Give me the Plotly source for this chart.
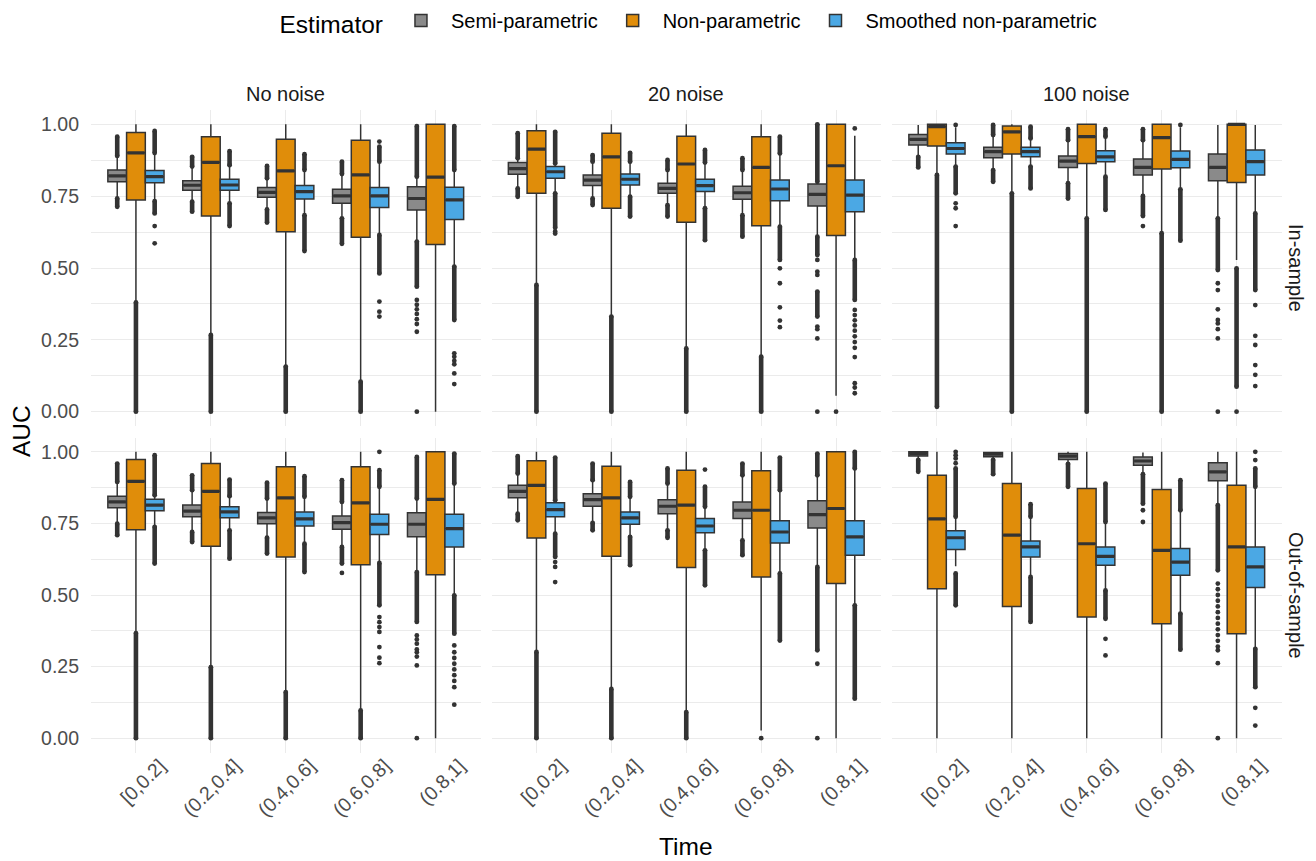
import plotly.graph_objects as go

# ---------------- data ----------------
TIME_LABELS = ["[0,0.2]", "(0.2,0.4]", "(0.4,0.6]", "(0.6,0.8]", "(0.8,1]"]
NOISE_LABELS = ["No noise", "20 noise", "100 noise"]
SAMPLE_LABELS = ["In-sample", "Out-of-sample"]
ESTIMATORS = ["Semi-parametric", "Non-parametric", "Smoothed non-parametric"]
Y_TICKS = [0.0, 0.25, 0.5, 0.75, 1.0]
Y_TICK_TEXT = ["0.00", "0.25", "0.50", "0.75", "1.00"]

# Panels order: No/In, 20/In, 100/In, No/Out, 20/Out, 100/Out ; 5 time bins each
SEMI_Q1 = [[.800, .771, .746, .725, .702], [.826, .787, .760, .739, .716], [.928, .884, .850, .824, .804],
           [.805, .773, .749, .730, .703], [.840, .810, .784, .767, .734], [.985, .983, .973, .953, .899]]
SEMI_MED = [[.821, .788, .763, .751, .742], [.846, .806, .777, .762, .756], [.948, .905, .872, .850, .850],
            [.825, .793, .769, .753, .747], [.862, .833, .810, .796, .781], [.994, .992, .985, .968, .930]]
SEMI_Q3 = [[.841, .804, .780, .774, .783], [.867, .824, .795, .785, .792], [.965, .920, .890, .879, .897],
           [.845, .814, .788, .776, .787], [.883, .854, .833, .825, .829], [1.0, .998, .994, .982, .962]]
SEMI_LO = [[.745, .735, .708, .678, .595], [.780, .745, .722, .687, .612], [.890, .843, .798, .755, .676],
           [.752, .722, .702, .670, .583], [.787, .755, .730, .695, .600], [.975, .975, .962, .925, .818]]
SEMI_HI = [[.885, .850, .810, .825, .815], [.880, .868, .838, .838, .798], [.998, .960, .942, .942, .998],
           [.892, .862, .834, .822, .834], [.921, .898, .886, .915, .915], [1.0, 1.0, 1.0, .998, 1.0]]
SEMI_STREAKS = [
    [[[.890, .957], [.713, .742]], [[.853, .887], [.696, .731]], [[.812, .855], [.658, .704]],
     [[.827, .870], [.584, .673]], [[.818, .994], [.435, .592]]],
    [[[.882, .969], [.748, .777]], [[.870, .893], [.719, .742]], [[.841, .876], [.679, .719]],
     [[.841, .882], [.609, .684]], [[.800, 1.0], [.545, .609], [.331, .418]]],
    [[[.850, .887]], [[.963, .998], [.800, .841]], [[.945, .983], [.742, .795]],
     [[.945, .983], [.681, .751]], [[.493, .673]]],
    [[[.895, .959], [.709, .749]], [[.866, .918], [.685, .720]], [[.837, .892], [.645, .700]],
     [[.825, .901], [.610, .668]], [[.837, .982], [.406, .580]]],
    [[[.924, .985], [.761, .784]], [[.901, .959], [.726, .752]], [[.889, .942], [.700, .726]],
     [[.918, .959], [.639, .691]], [[.918, .994], [.307, .598]]],
    [[[.930, .972]], [[.922, .972]], [[.878, .958]], [[.819, .922]], [[.586, .814]]],
]
SEMI_POINTS = [
    [[], [], [], [], [.389, .372, .356, .340, .322, .305, .278, 0.0]],
    [[], [], [], [], [.528, .487, .476, .296, .287, .255, 0.0]],
    [[], [], [], [.646], [.447, .423, .356, .319, .307, .287, .255, 0.0]],
    [[], [], [], [.577], [.359, .345, .330, .310, .300, .285, .254, 0.0]],
    [[], [], [], [], [.260, 0.0]],
    [[], [], [], [.796, .755], [.540, .520, .500, .480, .460, .440, .420, .400, .380, .360, .340, .320, .307, .262, 0.0]],
]

NONP_Q1 = [[.737, .681, .626, .607, .582], [.760, .708, .659, .647, .613], [.925, .897, .864, .845, .798],
           [.728, .670, .633, .606, .571], [.699, .635, .596, .563, .540], [.522, .460, .423, .400, .365]]
NONP_MED = [[.901, .868, .838, .824, .816], [.914, .887, .862, .850, .856], [.992, .974, .957, .954, 1.0],
            [.897, .862, .839, .822, .834], [.883, .839, .814, .796, .802], [.766, .709, .679, .656, .668]]
NONP_Q3 = [[.972, .957, .948, .945, 1.0], [.978, .969, .959, .957, 1.0], [1.0, .994, 1.0, 1.0, 1.0],
           [.973, .959, .948, .948, 1.0], [.969, .950, .936, .934, 1.0], [.918, .889, .872, .868, .883]]
NONP_LO = [[.384, .270, .160, .107, 0.0], [.445, .335, .224, .195, .055], [.826, .762, .675, .623, .528],
           [.370, .250, .165, .100, 0.0], [.305, .175, .095, .027, 0.0], [0.0, 0.0, 0.0, 0.0, 0.0]]
NONP_HI = [[1.0, 1.0, 1.0, 1.0, 1.0], [1.0, 1.0, 1.0, 1.0, 1.0], [1.0, 1.0, 1.0, 1.0, 1.0],
           [1.0, 1.0, 1.0, 1.0, 1.0], [1.0, 1.0, 1.0, 1.0, 1.0], [1.0, 1.0, 1.0, 1.0, 1.0]]
NONP_STREAKS = [
    [[[0.0, .380]], [[0.0, .267]], [[0.0, .157]], [[0.0, .104]], []],
    [[[0.0, .441]], [[0.0, .331]], [[0.0, .220]], [[0.0, .191]], []],
    [[[.017, .824]], [[0.0, .760]], [[0.0, .673]], [[0.0, .621]], [[.087, .499]]],
    [[[0.0, .367]], [[0.0, .248]], [[0.0, .161]], [[0.0, .097]], []],
    [[[0.0, .301]], [[0.0, .172]], [[0.0, .091]], [], []],
    [[], [], [], [], []],
]
NONP_POINTS = [
    [[], [], [], [], []],
    [[], [], [], [], [0.0]],
    [[], [], [], [], [0.0]],
    [[], [], [], [], []],
    [[], [], [], [0.0], []],
    [[], [], [], [], []],
]

SMOOTH_Q1 = [[.797, .771, .740, .711, .669], [.812, .789, .766, .734, .696], [.897, .887, .870, .849, .824],
             [.794, .770, .741, .711, .668], [.773, .747, .717, .682, .639], [.659, .633, .604, .569, .526]]
SMOOTH_MED = [[.818, .789, .766, .751, .737], [.835, .809, .787, .775, .754], [.916, .905, .887, .878, .870],
              [.814, .790, .766, .747, .732], [.798, .769, .741, .720, .703], [.700, .668, .635, .615, .598]]
SMOOTH_Q3 = [[.839, .809, .787, .780, .781], [.853, .827, .809, .806, .806], [.936, .920, .908, .907, .911],
             [.834, .808, .790, .782, .782], [.822, .790, .767, .759, .759], [.724, .689, .668, .662, .668]]
SMOOTH_LO = [[.736, .728, .688, .618, .508], [.763, .751, .711, .647, .531], [.856, .855, .820, .777, .692],
             [.740, .728, .682, .615, .502], [.716, .706, .660, .578, .467], [.600, .566, .520, .440, .315]]
SMOOTH_HI = [[.898, .855, .838, .868, .838], [.862, .868, .864, .897, .960], [.990, .948, .955, .990, .998],
             [.845, .842, .840, .875, .886], [.828, .840, .805, .863, .938], [.770, .770, .750, .793, .875]]
SMOOTH_STREAKS = [
    [[[.900, .977], [.690, .733]], [[.858, .907], [.646, .725]], [[.841, .896], [.559, .684]],
     [[.870, .922], [.481, .615]], [[.841, .994], [.319, .505]]],
    [[[.864, .974], [.640, .760]], [[.870, .901], [.679, .748]], [[.867, .911], [.597, .708]],
     [[.899, .957], [.528, .644]], [[.389, .528]]],
    [[[.760, .853]], [[.951, .992], [.777, .853]], [[.957, .983], [.702, .818]],
     [[.595, .774]], [[.423, .690]]],
    [[[.848, .988], [.610, .738]], [[.845, .903], [.627, .726]], [[.843, .915], [.580, .679]],
     [[.878, .936], [.464, .612]], [[.889, .994], [.365, .499]]],
    [[[.831, .980], [.633, .714]], [[.843, .895], [.604, .703]], [[.808, .878], [.534, .656]],
     [[.866, .980], [.341, .575]], [[.942, 1.0], [.138, .464]]],
    [[[.773, .942], [.464, .575]], [[.773, .817], [.406, .563]], [[.755, .889], [.417, .516]],
     [[.796, .901], [.309, .435]], [[.878, .942], [.178, .312]]],
]
SMOOTH_POINTS = [
    [[.646, .586], [], [], [.940, .383, .348, .331], [.203, .191, .177, .165, .133, .096]],
    [[.627, .620], [], [], [.499, .447, .363, .317, .294],
     [.986, .354, .336, .318, .300, .282, .262, .242, .222, .190, .099, .084, .064]],
    [[.998, .725, .708, .646], [], [], [.998], [.371, .264, .232, .162, .128, .089]],
    [[], [], [], [1.0, .423, .405, .388, .371, .318, .281, .262], [.324, .300, .280, .260, .240, .220, .200, .178, .117]],
    [[.615, .598, .545], [], [.938], [], []],
    [[1.0, .988, .977, .960], [], [.347, .289], [], [1.0, .971, .106, .044]],
]

# ---------------- styling ----------------
FILLS = ["#8a8a8a", "#E08D0A", "#4BA8E4"]
EDGE = "#333333"
FONT = "Liberation Sans, Arial, sans-serif"
W, H = 1316, 861
COLS_PX = [(91, 480.5), (491.5, 881), (892, 1281.5)]
ROWS_PX = [(110, 426), (437.5, 752.5)]
OFFSETS = [-0.25, 0.0, 0.25]
BOX_W = 0.25
TICK_SIZE = 19.5
STRIP_SIZE = 20
TITLE_SIZE = 24.5

STATS = [
    (SEMI_Q1, SEMI_MED, SEMI_Q3, SEMI_LO, SEMI_HI, SEMI_STREAKS, SEMI_POINTS),
    (NONP_Q1, NONP_MED, NONP_Q3, NONP_LO, NONP_HI, NONP_STREAKS, NONP_POINTS),
    (SMOOTH_Q1, SMOOTH_MED, SMOOTH_Q3, SMOOTH_LO, SMOOTH_HI, SMOOTH_STREAKS, SMOOTH_POINTS),
]

fig = go.Figure()
layout = dict()

for p in range(6):
    r, c = divmod(p, 3)
    ax = "" if p == 0 else str(p + 1)
    xref, yref = "x" + ax, "y" + ax
    x0, x1 = COLS_PX[c]
    yt, yb = ROWS_PX[r]
    layout["xaxis" + ax] = dict(
        domain=[x0 / W, x1 / W], range=[-0.6, 4.6], anchor=yref,
        tickvals=list(range(len(TIME_LABELS))), ticktext=TIME_LABELS,
        showticklabels=(r == 1), tickangle=-45, ticklabelshift=24, ticklabelstandoff=-3,
        tickfont=dict(size=TICK_SIZE, color="#4d4d4d", family=FONT),
        showgrid=True, gridcolor="#ebebeb", gridwidth=1.2, zeroline=False,
        showline=False, ticks="", fixedrange=True,
    )
    layout["yaxis" + ax] = dict(
        domain=[1 - yb / H, 1 - yt / H], range=[-0.05, 1.05], anchor=xref,
        tickvals=Y_TICKS, ticktext=Y_TICK_TEXT, showticklabels=(c == 0),
        tickfont=dict(size=TICK_SIZE, color="#4d4d4d", family=FONT), ticklabelstandoff=11,
        showgrid=True, gridcolor="#ebebeb", gridwidth=1.2, zeroline=False,
        minor=dict(tickvals=[0.125, 0.375, 0.625, 0.875], showgrid=True, gridcolor="#ebebeb", gridwidth=0.6),
        showline=False, ticks="", fixedrange=True,
    )
    for e in range(3):
        q1, med, q3, lo, hi, streaks, points = STATS[e]
        xs = [t + OFFSETS[e] for t in range(len(TIME_LABELS))]
        fig.add_trace(go.Box(
            x=xs, q1=q1[p], median=med[p], q3=q3[p], lowerfence=lo[p], upperfence=hi[p],
            width=BOX_W, whiskerwidth=0, boxpoints=False,
            fillcolor=FILLS[e], line=dict(color=EDGE, width=1.5),
            name=ESTIMATORS[e], legendgroup=ESTIMATORS[e], showlegend=(p == 0),
            xaxis=xref, yaxis=yref, hoverinfo="skip",
        ))
        # thicker median line (ggplot fatten)
        mx, my = [], []
        for t in range(len(TIME_LABELS)):
            mx += [xs[t] - BOX_W / 2 + 0.01, xs[t] + BOX_W / 2 - 0.01, None]
            my += [med[p][t], med[p][t], None]
        fig.add_trace(go.Scatter(x=mx, y=my, mode="lines", line=dict(color=EDGE, width=3.2),
                                 showlegend=False, xaxis=xref, yaxis=yref, hoverinfo="skip"))
        # dense outlier runs
        sx, sy = [], []
        for t in range(len(TIME_LABELS)):
            for a, b in streaks[p][t]:
                sx += [xs[t], xs[t], None]
                sy += [a, b, None]
        if sx:
            fig.add_trace(go.Scatter(x=sx, y=sy, mode="lines+markers",
                                     line=dict(color=EDGE, width=4.6),
                                     marker=dict(color=EDGE, size=4.8),
                                     showlegend=False, xaxis=xref, yaxis=yref, hoverinfo="skip"))
        # individual outliers
        px_, py_ = [], []
        for t in range(len(TIME_LABELS)):
            for v in points[p][t]:
                px_.append(xs[t])
                py_.append(v)
        if px_:
            fig.add_trace(go.Scatter(x=px_, y=py_, mode="markers",
                                     marker=dict(color=EDGE, size=4.8),
                                     showlegend=False, xaxis=xref, yaxis=yref, hoverinfo="skip"))

annotations = []
for c, lab in enumerate(NOISE_LABELS):
    x0, x1 = COLS_PX[c]
    annotations.append(dict(text=lab, x=(x0 + x1) / 2 / W, y=1 - 94 / H, xref="paper", yref="paper",
                            showarrow=False, font=dict(size=STRIP_SIZE, color="#1a1a1a", family=FONT),
                            xanchor="center", yanchor="middle"))
for r, lab in enumerate(SAMPLE_LABELS):
    yt, yb = ROWS_PX[r]
    annotations.append(dict(text=lab, x=1296 / W, y=1 - (yt + yb) / 2 / H, xref="paper", yref="paper",
                            showarrow=False, textangle=90, font=dict(size=STRIP_SIZE, color="#1a1a1a", family=FONT),
                            xanchor="center", yanchor="middle"))
annotations.append(dict(text="AUC", x=21 / W, y=1 - 431 / H, xref="paper", yref="paper", showarrow=False,
                        textangle=-90, font=dict(size=TITLE_SIZE, color="#000000", family=FONT),
                        xanchor="center", yanchor="middle"))
annotations.append(dict(text="Time", x=686 / W, y=1 - 846 / H, xref="paper", yref="paper", showarrow=False,
                        font=dict(size=TITLE_SIZE, color="#000000", family=FONT), xanchor="center", yanchor="middle"))

fig.update_layout(
    **layout,
    width=W, height=H, margin=dict(l=0, r=0, t=0, b=0),
    paper_bgcolor="white", plot_bgcolor="white",
    boxmode="overlay",
    font=dict(family=FONT, color="#1a1a1a"),
    annotations=annotations,
    legend=dict(orientation="h", x=690 / W, xanchor="center", y=1 - 22 / H, yanchor="middle",
                title=dict(text="Estimator", side="left", font=dict(size=TITLE_SIZE, color="#000000", family=FONT)),
                font=dict(size=STRIP_SIZE, color="#000000", family=FONT), itemwidth=50, tracegroupgap=0),
)

fig.write_html("out.html", config={"displayModeBar": False},
               post_script="document.body.style.margin='0';document.body.style.overflow='hidden';")
